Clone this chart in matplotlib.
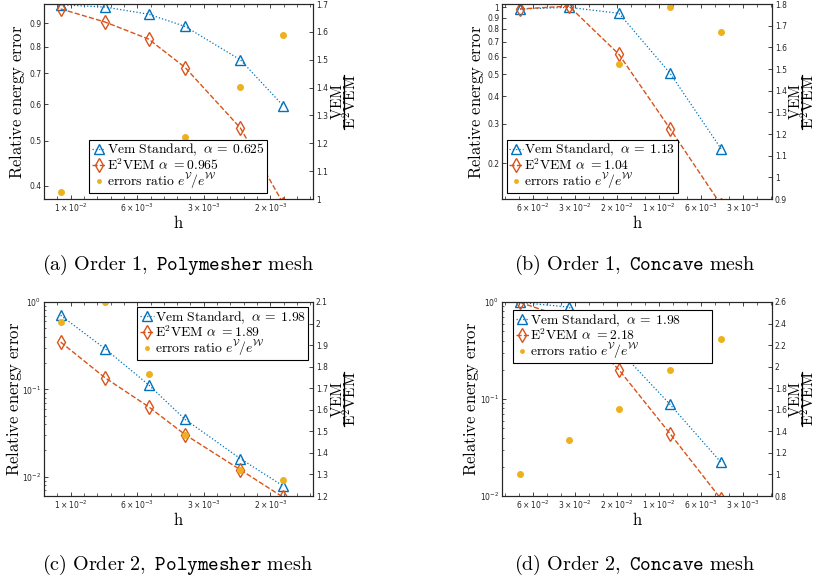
import matplotlib
matplotlib.use('Agg')
import matplotlib.pyplot as plt
from matplotlib.ticker import FixedLocator, FixedFormatter, NullFormatter, NullLocator, LogLocator
from matplotlib.lines import Line2D

plt.rcParams['mathtext.fontset'] = 'cm'
plt.rcParams['font.family'] = ['DejaVu Sans']

BLUE = '#0072BD'
ORANGE = '#D95319'
YELLOW = '#EDB120'
AXC = '#262626'

# ---------------- data ----------------
# x positions (mesh index along the reversed h axis)
x_poly = [1.25, 4.58, 7.85, 10.6, 14.75, 17.98]
x_conc = [2.07, 5.57, 9.14, 12.79, 16.43]

# (a) Order 1, Polymesher
vem_a = [0.986, 0.975, 0.941, 0.885, 0.749, 0.595]
e2_a = [0.966, 0.905, 0.831, 0.721, 0.533, 0.365]
ratio_a = [1.026, 1.077, 1.132, 1.224, 1.403, 1.589]
# (b) Order 1, Concave
vem_b = [0.983, 1.0, 0.940, 0.506, 0.232]
e2_b = [0.983, 1.013, 0.615, 0.285, 0.13]
ratio_b = [1.0, 0.987, 1.523, 1.786, 1.671]
# (c) Order 2, Polymesher
vem_c = [0.704, 0.292, 0.113, 0.0453, 0.0161, 0.0078]
e2_c = [0.348, 0.136, 0.0633, 0.0303, 0.0120, 0.0058]
ratio_c = [2.007, 2.098, 1.768, 1.482, 1.319, 1.273]
# (d) Order 2, Concave
vem_d = [0.99, 0.887, 0.32, 0.0879, 0.0222]
e2_d = [0.99, 0.671, 0.20, 0.0439, 0.0093]
ratio_d = [1.0, 1.322, 1.603, 1.973, 2.26]

alphas = {'a': ('0.625', '0.965'), 'b': ('1.13', '1.04'),
          'c': ('1.98', '1.89'), 'd': ('1.98', '2.18')}

poly_xticks = [2, 7, 12, 17]
poly_xlabels = [r'$1\times10^{-2}$', r'$6\times10^{-3}$', r'$3\times10^{-3}$', r'$2\times10^{-3}$']
conc_xticks = [3, 6, 9, 12, 15, 18]
conc_xlabels = [r'$6\times10^{-2}$', r'$3\times10^{-2}$', r'$2\times10^{-2}$',
                r'$1\times10^{-2}$', r'$6\times10^{-3}$', r'$3\times10^{-3}$']

captions = [r'$\mathrm{(a)\ Order\ 1,\ }\mathtt{Polymesher}\mathrm{\ mesh}$',
            r'$\mathrm{(b)\ Order\ 1,\ }\mathtt{Concave}\mathrm{\ mesh}$',
            r'$\mathrm{(c)\ Order\ 2,\ }\mathtt{Polymesher}\mathrm{\ mesh}$',
            r'$\mathrm{(d)\ Order\ 2,\ }\mathtt{Concave}\mathrm{\ mesh}$']

W, H = 816, 583
fig = plt.figure(figsize=(W / 100, H / 100), dpi=100)


def rect(l, t, r, b):
    return [l / W, 1 - b / H, (r - l) / W, (b - t) / H]


TICKFS = 5.5


def style_ticklabels(ax):
    for lab in ax.get_xticklabels() + ax.get_yticklabels():
        lab.set_math_fontfamily('dejavusans')


def panel(box, x, vem, e2, ratio, xlim, xt, xl, xminor, ylim, yt, yl, yminor,
          rlim, rt, rl, al, leg_loc, leg_anchor, lx, bx, extra=''):
    l, t, r, b = box
    ax = fig.add_axes(rect(l, t, r, b))
    ax.set_yscale('log')
    ax.plot(x, vem, ls=':', lw=0.9, color=BLUE, marker='^', ms=6.5, mfc='none',
            mec=BLUE, mew=1.0)
    ax.plot(x, e2, ls='--', lw=1.0, color=ORANGE, marker='d', ms=7, mfc='none',
            mec=ORANGE, mew=1.0)
    ax.set_xlim(*xlim)
    ax.set_ylim(*ylim)
    ax.xaxis.set_major_locator(FixedLocator(xt))
    ax.xaxis.set_major_formatter(FixedFormatter(xl))
    ax.xaxis.set_minor_locator(FixedLocator(xminor))
    ax.yaxis.set_major_locator(FixedLocator(yt))
    ax.yaxis.set_major_formatter(FixedFormatter(yl))
    if yminor:
        ax.yaxis.set_minor_locator(LogLocator(base=10, subs=range(2, 10)))
    else:
        ax.yaxis.set_minor_locator(NullLocator())
    ax.yaxis.set_minor_formatter(NullFormatter())
    ax.tick_params(which='both', direction='in', top=True, right=False,
                   labelsize=TICKFS, colors=AXC, pad=2)
    ax.tick_params(which='major', length=3, width=0.6)
    ax.tick_params(which='minor', length=1.6, width=0.5)
    ax.tick_params(axis='x', which='minor', length=2.2)
    for s in ax.spines.values():
        s.set_color(AXC)
        s.set_linewidth(0.8)
    ax.set_xlabel(r'$\mathrm{h}$', fontsize=12, color='black', labelpad=0)
    style_ticklabels(ax)
    cy = 1 - (t + b) / 2 / H
    fig.text(lx / W, cy, r'$\mathrm{Relative\ energy\ error}$', fontsize=12,
             rotation=90, ha='center', va='center')

    ax2 = ax.twinx()
    ax2.plot(x, ratio, ls='none', marker='o', ms=4, color=YELLOW, mec=YELLOW)
    ax2.set_ylim(*rlim)
    ax2.yaxis.set_major_locator(FixedLocator(rt))
    ax2.yaxis.set_major_formatter(FixedFormatter(rl))
    ax2.tick_params(which='both', direction='in', labelsize=TICKFS, colors=AXC, pad=2,
                    length=3, width=0.6)
    for s in ax2.spines.values():
        s.set_color(AXC)
        s.set_linewidth(0.8)
    style_ticklabels(ax2)

    # right label: fraction VEM / E^2VEM, rotated (anchored on the text baseline)
    fig.text((bx - 2) / W, cy, r'$\mathrm{VEM}$', fontsize=11,
             rotation=90, rotation_mode='anchor', ha='center', va='baseline')
    fig.text((bx + 13) / W, cy, r'$\mathrm{E^2VEM}$', fontsize=11,
             rotation=90, rotation_mode='anchor', ha='center', va='baseline')
    fig.add_artist(Line2D([bx / W, bx / W], [cy - 27 / H, cy + 27 / H],
                          transform=fig.transFigure, color='black', lw=0.9))

    handles = [
        Line2D([], [], ls=':', lw=0.9, color=BLUE, marker='^', ms=6.5, mfc='none', mec=BLUE),
        Line2D([], [], ls='--', lw=1.0, color=ORANGE, marker='d', ms=7, mfc='none', mec=ORANGE),
        Line2D([], [], ls='none', marker='o', ms=2.5, color=YELLOW),
    ]
    labels = [r'$\mathrm{Vem\ Standard,}\ \alpha\:=\:%s$' % al[0] + extra,
              r'$\mathrm{E^2VEM}\ \alpha\ \mathrm{=}%s$' % al[1],
              r'$\mathrm{errors\ ratio}\ e^{\mathcal{V}}/e^{\mathcal{W}}$']
    leg = ax2.legend(handles, labels, loc=leg_loc, bbox_to_anchor=leg_anchor,
                     fontsize=9.8, frameon=True, fancybox=False, edgecolor='black',
                     framealpha=1, borderaxespad=0, handlelength=1.0,
                     handletextpad=0.1, labelspacing=-0.1, borderpad=0.18)
    leg.get_frame().set_linewidth(0.8)
    leg.set_zorder(10)
    return ax, ax2


poly_xlim = (0, 20.2)
conc_xlim = (0.786, 20.07)
poly_minor = [i for i in range(0, 21)]
conc_minor = [i for i in range(1, 21)]

# (a)
panel((44, 4, 313, 199), x_poly, vem_a, e2_a, ratio_a, poly_xlim, poly_xticks,
      poly_xlabels, poly_minor, (0.374, 0.99),
      [0.4, 0.5, 0.6, 0.7, 0.8, 0.9], ['0.4', '0.5', '0.6', '0.7', '0.8', '0.9'], False,
      (1.0, 1.7), [1.0, 1.1, 1.2, 1.3, 1.4, 1.5, 1.6, 1.7],
      ['1', '1.1', '1.2', '1.3', '1.4', '1.5', '1.6', '1.7'], alphas['a'],
      'lower right', (0.829, 0.031), 17.5, 343.5)
# (b)
panel((502, 4, 772, 199), x_conc, vem_b, e2_b, ratio_b, conc_xlim, conc_xticks,
      conc_xlabels, conc_minor, (0.138, 1.035),
      [0.2, 0.3, 0.4, 0.5, 0.6, 0.7, 0.8, 0.9, 1.0],
      ['0.2', '0.3', '0.4', '0.5', '0.6', '0.7', '0.8', '0.9', '1'], False,
      (0.9, 1.8), [0.9, 1.0, 1.1, 1.2, 1.3, 1.4, 1.5, 1.6, 1.7, 1.8],
      ['0.9', '1', '1.1', '1.2', '1.3', '1.4', '1.5', '1.6', '1.7', '1.8'], alphas['b'],
      'lower left', (0.0185, 0.031), 476, 801.5)
# (c)
panel((44, 302, 313, 496), x_poly, vem_c, e2_c, ratio_c, poly_xlim, poly_xticks,
      poly_xlabels, poly_minor, (0.00602, 1.0),
      [1e-2, 1e-1, 1.0], [r'$10^{-2}$', r'$10^{-1}$', r'$10^{0}$'], True,
      (1.2, 2.1), [1.2, 1.3, 1.4, 1.5, 1.6, 1.7, 1.8, 1.9, 2.0, 2.1],
      ['1.2', '1.3', '1.4', '1.5', '1.6', '1.7', '1.8', '1.9', '2', '2.1'], alphas['c'],
      'upper right', (0.983, 0.974), 14, 343.5)
# (d)
panel((502, 302, 772, 496), x_conc, vem_d, e2_d, ratio_d, conc_xlim, conc_xticks,
      conc_xlabels, conc_minor, (0.01, 1.0),
      [1e-2, 1e-1, 1.0], [r'$10^{-2}$', r'$10^{-1}$', r'$10^{0}$'], True,
      (0.8, 2.6), [0.8, 1.0, 1.2, 1.4, 1.6, 1.8, 2.0, 2.2, 2.4, 2.6],
      ['0.8', '1', '1.2', '1.4', '1.6', '1.8', '2', '2.2', '2.4', '2.6'], alphas['d'],
      'upper left', (0.041, 0.959), 471, 801.5, extra='\u2003\u2003\u2004')

cap_pos = [(178, 265), (635, 265), (178, 565), (635, 565)]
for (cx, cy), cap in zip(cap_pos, captions):
    fig.text(cx / W, 1 - cy / H, cap, ha='center', va='center', fontsize=14.5)

fig.savefig('out.png', dpi=100)
